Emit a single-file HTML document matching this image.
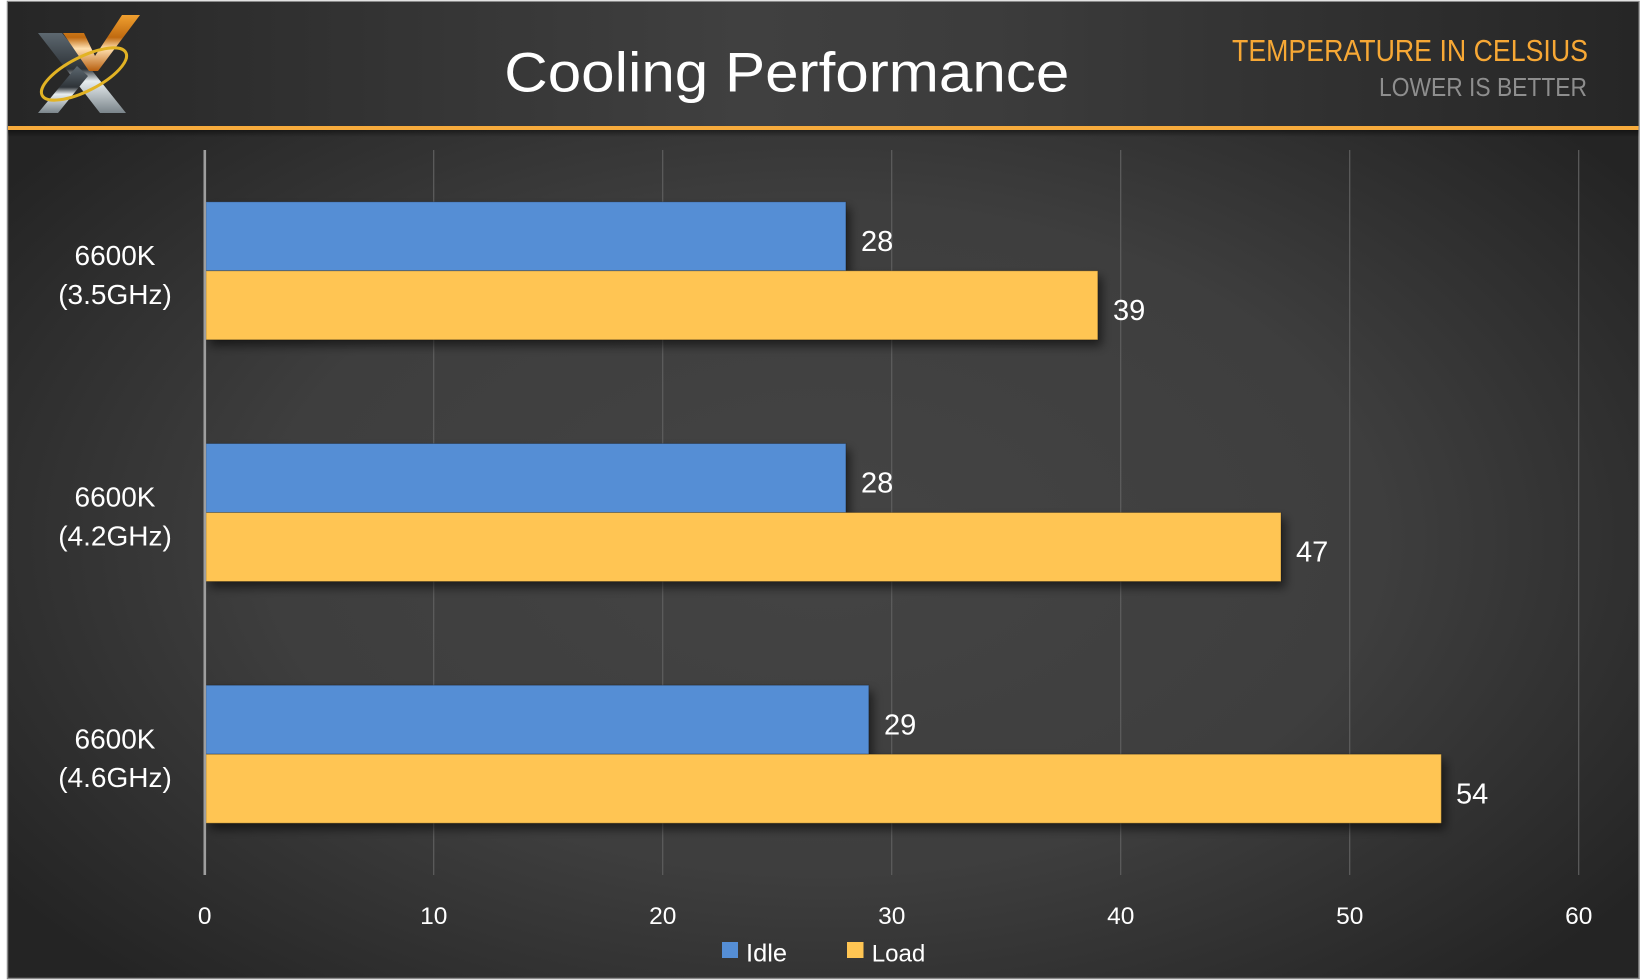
<!DOCTYPE html>
<html>
<head>
<meta charset="utf-8">
<style>
  html,body{margin:0;padding:0;background:#ffffff;}
  svg{display:block;}
  text{font-family:"Liberation Sans", sans-serif;}
</style>
</head>
<body>
<svg width="1645" height="980" viewBox="0 0 1645 980" xmlns="http://www.w3.org/2000/svg">
  <defs>
    <radialGradient id="bg" cx="50%" cy="55%" r="62%">
      <stop offset="0" stop-color="#444444"/>
      <stop offset="0.55" stop-color="#3e3e3e"/>
      <stop offset="1" stop-color="#242424"/>
    </radialGradient>
    <linearGradient id="hdr" x1="0" y1="0" x2="1" y2="0">
      <stop offset="0" stop-color="#262626"/>
      <stop offset="0.45" stop-color="#404040"/>
      <stop offset="0.6" stop-color="#3c3c3c"/>
      <stop offset="1" stop-color="#262626"/>
    </linearGradient>
    <linearGradient id="shd" x1="0" y1="0" x2="0" y2="1">
      <stop offset="0" stop-color="#000" stop-opacity="0.45"/>
      <stop offset="1" stop-color="#000" stop-opacity="0"/>
    </linearGradient>
    <linearGradient id="silver" x1="0" y1="0" x2="0" y2="1">
      <stop offset="0" stop-color="#5d6870"/>
      <stop offset="0.45" stop-color="#2e3338"/>
      <stop offset="0.6" stop-color="#e8eef0"/>
      <stop offset="1" stop-color="#7a848a"/>
    </linearGradient>
    <linearGradient id="orange" x1="0" y1="0" x2="0" y2="1">
      <stop offset="0" stop-color="#f0a030"/>
      <stop offset="0.4" stop-color="#c06a10"/>
      <stop offset="0.6" stop-color="#ffe0b0"/>
      <stop offset="1" stop-color="#b86010"/>
    </linearGradient>
    <filter id="bs" x="-5%" y="-20%" width="115%" height="160%">
      <feDropShadow dx="4" dy="6" stdDeviation="5" flood-color="#000" flood-opacity="0.55"/>
    </filter>
  </defs>

  <!-- frame -->
  <rect x="7.5" y="1.5" width="1631.5" height="977" fill="url(#bg)" stroke="#8a8a8a" stroke-width="1.5"/>
  <rect x="8" y="2" width="1630.5" height="124" fill="url(#hdr)"/>
  <rect x="8" y="130" width="1630.5" height="7" fill="url(#shd)"/>
  <rect x="8" y="126" width="1630.5" height="4" fill="#f7ab3c"/>

  <!-- logo -->
  <g>
    <polygon points="38,33 62,33 126,113 100,113" fill="url(#silver)"/>
    <polygon points="38,113 58,113 88,76 77,66" fill="url(#silver)"/>
    <polygon points="63,33 84,33 95,56 122,15 140,15 98,71 89,71" fill="url(#orange)"/>
    <ellipse cx="84" cy="74" rx="47" ry="17" transform="rotate(-27 84 74)" fill="none" stroke="#e2b324" stroke-width="3"/>
  </g>

  <!-- header texts -->
  <text x="786.8" y="91.7" font-size="56" fill="#ffffff" text-anchor="middle" textLength="565" lengthAdjust="spacingAndGlyphs">Cooling Performance</text>
  <text x="1232" y="61" font-size="31" fill="#f7a835" textLength="356" lengthAdjust="spacingAndGlyphs">TEMPERATURE IN CELSIUS</text>
  <text x="1379" y="96" font-size="26" fill="#8e8e8e" textLength="208" lengthAdjust="spacingAndGlyphs">LOWER IS BETTER</text>

  <!-- gridlines -->
  <g stroke="#5e5e5e" stroke-width="1.2">
    <line x1="433.7" y1="150" x2="433.7" y2="875"/>
    <line x1="662.7" y1="150" x2="662.7" y2="875"/>
    <line x1="891.7" y1="150" x2="891.7" y2="875"/>
    <line x1="1120.7" y1="150" x2="1120.7" y2="875"/>
    <line x1="1349.7" y1="150" x2="1349.7" y2="875"/>
    <line x1="1578.7" y1="150" x2="1578.7" y2="875"/>
  </g>

  <!-- bars -->
  <g filter="url(#bs)" stroke="rgba(0,0,0,0.25)" stroke-width="1">
    <rect x="206" y="201.8" width="639.9" height="69" fill="#558ed5"/>
    <rect x="206" y="270.8" width="891.8" height="69" fill="#ffc553"/>
    <rect x="206" y="443.5" width="639.9" height="69" fill="#558ed5"/>
    <rect x="206" y="512.5" width="1075" height="69" fill="#ffc553"/>
    <rect x="206" y="685.2" width="662.8" height="69" fill="#558ed5"/>
    <rect x="206" y="754.2" width="1235.3" height="69" fill="#ffc553"/>
  </g>

  <!-- axis line -->
  <rect x="203.5" y="150" width="2.6" height="725" fill="#9e9e9e"/>

  <!-- value labels -->
  <g font-size="29" fill="#ffffff">
    <text x="861" y="251">28</text>
    <text x="1113" y="320">39</text>
    <text x="861" y="492.7">28</text>
    <text x="1296" y="561.7">47</text>
    <text x="884" y="734.4">29</text>
    <text x="1456" y="803.4">54</text>
  </g>

  <!-- category labels -->
  <g font-size="28" fill="#ffffff" text-anchor="middle">
    <text x="115" y="265">6600K</text>
    <text x="115" y="303.8">(3.5GHz)</text>
    <text x="115" y="506.7">6600K</text>
    <text x="115" y="545.5">(4.2GHz)</text>
    <text x="115" y="748.4">6600K</text>
    <text x="115" y="787.2">(4.6GHz)</text>
  </g>

  <!-- tick labels -->
  <g font-size="24.5" fill="#ffffff" text-anchor="middle">
    <text x="204.7" y="924">0</text>
    <text x="433.7" y="924">10</text>
    <text x="662.7" y="924">20</text>
    <text x="891.7" y="924">30</text>
    <text x="1120.7" y="924">40</text>
    <text x="1349.7" y="924">50</text>
    <text x="1578.7" y="924">60</text>
  </g>

  <!-- legend -->
  <rect x="722" y="942" width="16" height="16" fill="#558ed5"/>
  <text x="746" y="961.7" font-size="25" fill="#ffffff" textLength="41" lengthAdjust="spacingAndGlyphs">Idle</text>
  <rect x="847" y="942" width="16.5" height="16" fill="#ffc553"/>
  <text x="871.7" y="961.7" font-size="24.5" fill="#ffffff" textLength="53.6" lengthAdjust="spacingAndGlyphs">Load</text>
</svg>
</body>
</html>
